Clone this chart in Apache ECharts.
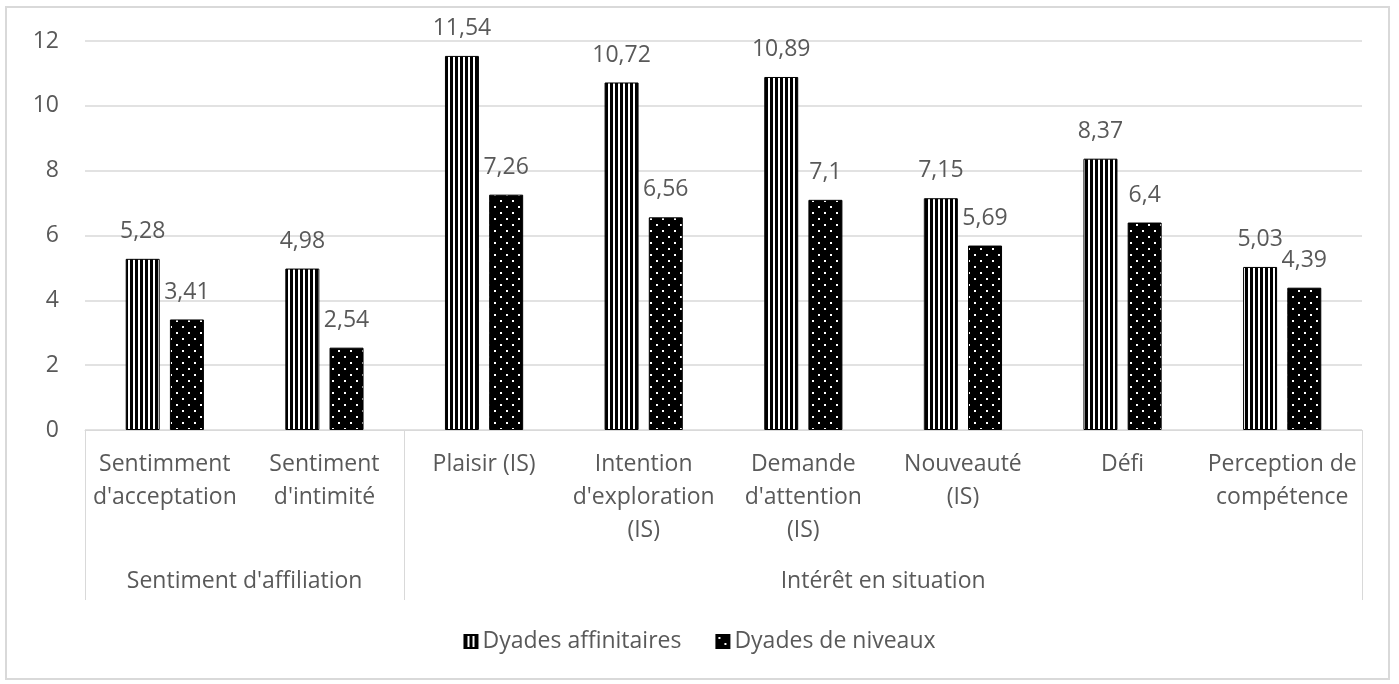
<!DOCTYPE html>
<html lang="fr">
<head>
    <meta charset="UTF-8">
    <title>Dyades</title>
    <style>
        html, body { margin: 0; padding: 0; background: #fff; }
        #chart { width: 1399px; height: 684px; }
    </style>
</head>
<body>
    <div id="chart"></div>

    <script src="https://cdn.jsdelivr.net/npm/echarts@6/dist/echarts.min.js"></script>
    <script>
        var categories = [
            "Sentimment\nd'acceptation",
            "Sentiment\nd'intimité",
            "Plaisir (IS)",
            "Intention\nd'exploration\n(IS)",
            "Demande\nd'attention\n(IS)",
            "Nouveauté\n(IS)",
            "Défi",
            "Perception de\ncompétence"
        ];
        var groupNames = ["Sentiment d'affiliation", "Intérêt en situation"];
        var groupCenters = [1, 5];      // positions on the 0..8 category scale
        var groupBounds = [0, 2, 8];
        var affinitaires = [5.28, 4.98, 11.54, 10.72, 10.89, 7.15, 8.37, 5.03];
        var niveaux = [3.41, 2.54, 7.26, 6.56, 7.1, 5.69, 6.4, 4.39];
        var seriesNames = ['Dyades affinitaires', 'Dyades de niveaux'];

        var textColor = '#595959';
        var lineColor = '#d9d9d9';
        var font = '"Open Sans", Lato, sans-serif';
        var fs = 23;

        // vertical stripes pattern
        function stripes() {
            var c = document.createElement('canvas');
            c.width = 5; c.height = 10;
            var ctx = c.getContext('2d');
            ctx.fillStyle = '#ffffff';
            ctx.fillRect(0, 0, 5, 10);
            ctx.fillStyle = '#000000';
            ctx.fillRect(0, 0, 3, 10);
            return c;
        }
        // black with white dots
        function dots() {
            var c = document.createElement('canvas');
            c.width = 12; c.height = 12;
            var ctx = c.getContext('2d');
            ctx.fillStyle = '#000000';
            ctx.fillRect(0, 0, 12, 12);
            ctx.fillStyle = '#ffffff';
            ctx.fillRect(2, 2, 2, 2);
            ctx.fillRect(8, 8, 2, 2);
            return c;
        }

        function fmt(v) {
            return String(v).replace('.', ',');
        }

        var chart = echarts.init(document.getElementById('chart'));

        var labelStyle = {
            show: true,
            position: 'top',
            distance: 16,
            color: textColor,
            fontSize: fs,
            fontFamily: font,
            formatter: function (p) { return fmt(p.value); }
        };

        var option = {
            animation: false,
            graphic: [{
                type: 'rect',
                shape: { x: 6, y: 7, width: 1383, height: 672 },
                style: { fill: 'none', stroke: lineColor, lineWidth: 2 },
                silent: true
            }],
            grid: { left: 85, right: 37, top: 41, bottom: 254 },
            legend: {
                bottom: 26,
                left: 'center',
                icon: 'rect',
                itemWidth: 13,
                itemHeight: 13,
                itemGap: 34,
                textStyle: { color: textColor, fontSize: fs, fontFamily: font },
                data: seriesNames
            },
            xAxis: [{
                type: 'category',
                data: categories,
                axisLine: { lineStyle: { color: lineColor } },
                axisTick: { show: false },
                axisLabel: {
                    color: textColor,
                    fontSize: fs,
                    fontFamily: font,
                    lineHeight: 33,
                    margin: 18,
                    interval: 0
                }
            }, {
                type: 'value',
                min: 0,
                max: 8,
                position: 'bottom',
                axisLine: { show: false },
                splitLine: { show: false },
                axisTick: {
                    show: true,
                    customValues: groupBounds,
                    length: 170,
                    lineStyle: { color: lineColor }
                },
                axisLabel: {
                    customValues: groupCenters,
                    margin: 140,
                    color: textColor,
                    fontSize: fs,
                    fontFamily: font,
                    formatter: function (v) {
                        return groupNames[groupCenters.indexOf(v)];
                    }
                }
            }],
            yAxis: {
                type: 'value',
                min: 0,
                max: 12,
                interval: 2,
                axisLine: { show: false },
                axisTick: { show: false },
                axisLabel: { color: textColor, fontSize: fs, fontFamily: font, margin: 26 },
                splitLine: { lineStyle: { color: lineColor, width: 1.5 } }
            },
            series: [{
                name: seriesNames[0],
                type: 'bar',
                xAxisIndex: 0,
                data: affinitaires,
                barWidth: 34,
                barGap: '30%',
                itemStyle: {
                    color: { image: stripes(), repeat: 'repeat' },
                    borderColor: '#000',
                    borderWidth: 1
                },
                label: labelStyle
            }, {
                name: seriesNames[1],
                type: 'bar',
                xAxisIndex: 0,
                data: niveaux,
                barWidth: 34,
                itemStyle: {
                    color: { image: dots(), repeat: 'repeat' },
                    borderColor: '#000',
                    borderWidth: 1
                },
                label: labelStyle
            }]
        };

        chart.setOption(option);
    </script>
</body>
</html>
